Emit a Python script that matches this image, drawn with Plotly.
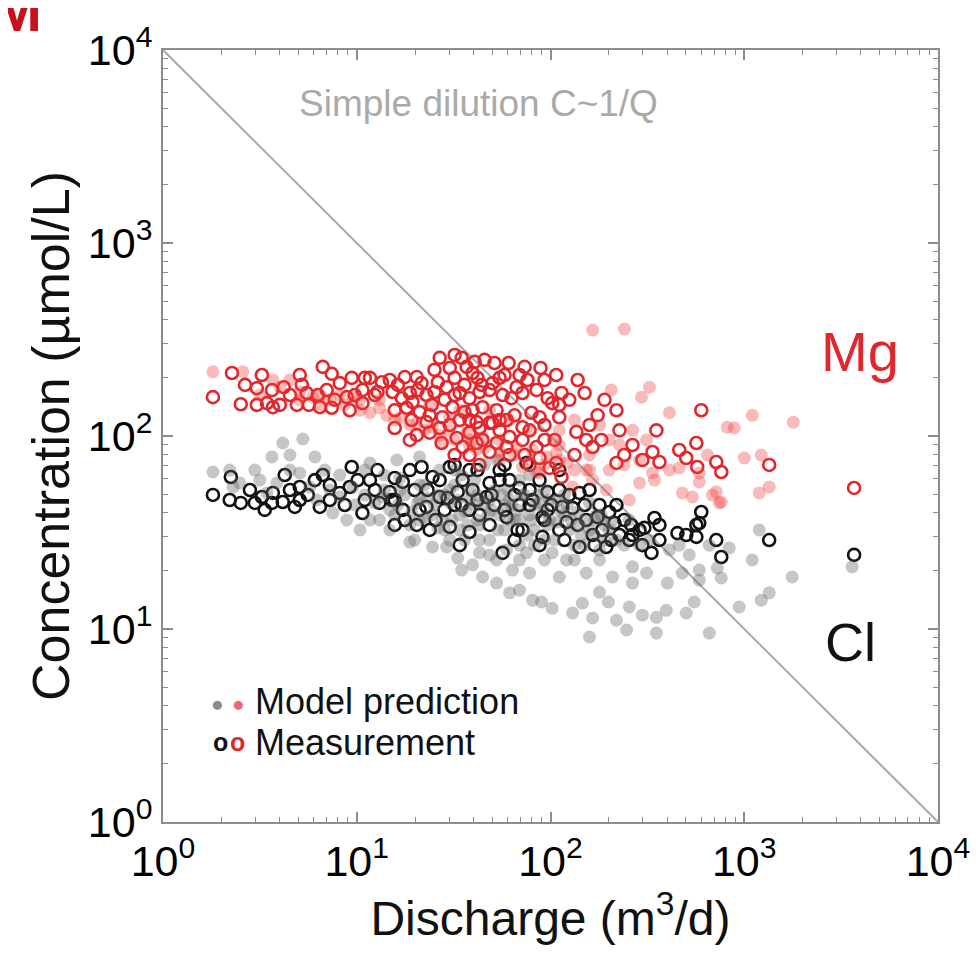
import plotly.graph_objects as go

# ---------------- data ----------------
# Mg measurements (red open circles)
mg_meas_Q = [1.81, 2.27, 2.52, 3.24, 3.05, 3.05, 3.44, 3.69, 3.65, 4.20, 4.91, 5.21, 5.52, 5.66, 6.68, 7.43,
             6.45, 7.43, 7.0, 8.17, 9.42, 9.20, 8.88, 26.8, 34.8, 45.7, 51.4, 60.8, 73.5, 88.8, 30.2, 36.9,
             39.6, 11.7, 13.5, 14.8, 17.7, 20.4, 21.6, 26.2, 29.1, 44.1, 48.5, 66.8, 71.7, 84.7, 10.7, 15.3,
             18.8, 22.9, 34.0, 38.2, 56.6, 10.7, 18.1, 19.4, 24.4, 31.2, 44.6, 52.7, 79.8, 19.2, 22.9, 27.7,
             34.0, 41.5, 48.5, 59.3, 71.7, 20.4, 23.8, 27.4, 32.8, 38.2, 44.6, 52.7, 61.5, 71.7, 84.7, 87.8,
             35.2, 107, 138, 150, 114, 102, 175, 219, 600, 352, 136, 183, 265, 336, 298, 365, 462, 566, 502,
             572, 717, 761, 219, 153, 114, 107, 78, 59.3, 41.5, 50.2, 39.6, 87.8, 111, 1345, 3690, 165, 43.0,
             50.2,
             9.77, 12.4, 16.3, 17.1, 20.6, 25.2, 28.4, 32.0, 36.0, 42.0, 54.6, 62.9, 76.1, 93.1, 96.6, 15.7,
             21.1, 26.8, 30.2, 36.0, 43.0, 54.6, 65.2, 78.0, 93.1, 105, 38.2, 48.5, 61.5, 73.5, 98.9, 133,
             159, 190, 227, 240, 125, 32.0, 25.2, 40.6, 57.9, 69.2, 5.08, 6.30, 7.70, 4.52, 4.01, 2.65,
             11.0, 12.8,
             32.0, 15.7, 18.8, 32.0, 43.0, 54.6, 111, 93.1, 38.2, 23.8]
mg_meas_C = [159, 212, 146, 207, 177, 145, 148, 141, 173, 179, 145, 184, 167, 145, 228, 210,
             141, 140, 173, 188, 200, 136, 159, 254, 254, 248, 239, 239, 228, 225, 225, 228,
             212, 200, 190, 195, 202, 202, 188, 190, 179, 184, 173, 179, 167, 173, 173, 169,
             167, 163, 167, 157, 163, 148, 140, 150, 145, 141, 141, 136, 132, 121, 118, 125,
             121, 118, 117, 121, 111, 101, 104, 92, 97.7, 104, 95.4, 92, 98.8, 95.4, 87.7, 76.9,
             87.7, 207, 195, 167, 167, 148, 128, 136, 136, 107, 105, 95.4, 89.8, 82.6, 75.1, 73.3, 84.6, 92, 76.9,
             69.1, 73.3, 65.1, 72.5, 95.4, 61.3, 72.5, 70.8, 87.7, 92, 117, 136, 125, 125, 70.8, 53.8, 87.7, 169,
             188,
             163, 163, 184, 157, 173, 169, 154, 200, 184, 200, 200, 157, 195, 195, 157, 136,
             133, 110, 114, 133, 110, 107, 128, 107, 114, 95.4, 79.7, 82.6, 79.7, 79.7, 68.3, 79.7,
             114, 154, 107, 79.7, 154, 163, 220, 242, 207, 207, 207, 163, 154, 163, 145, 184,
             200, 169,
             263, 110, 95.4, 79.7, 70.8, 121, 145, 95.4, 121, 128]

# Cl measurements (black open circles)
cl_meas_Q = [1.81, 2.24, 2.52, 2.98, 3.24, 3.65, 3.69, 4.15, 4.79, 5.08, 5.59, 6.45, 6.68, 9.42, 8.17, 7.26,
             11.7, 14.8, 17.3, 21.6, 24.6, 30.2, 35.2, 39.6, 48.5, 61.5, 69.2, 10.7, 13.1, 17.3, 20.4, 30.2,
             38.2, 46.8, 56.6, 75.2, 80.8, 90.9, 71.7, 26.8, 22.9, 59.3, 9.2, 101, 130, 141, 115, 153, 175,
             185, 214, 219, 265, 298, 332, 344, 365, 141, 194, 452, 502, 566, 566, 600, 717, 761, 121, 165,
             90.9, 288, 586, 1345, 3690, 15.7, 32.0, 43.0, 69.2, 93.1, 38.2, 54.6,
             10.1, 12.8, 15.7, 18.8, 19.9, 23.2, 26.8, 28.4, 33.2, 38.2, 42.0, 51.4, 54.6, 65.2, 78.0, 87.8,
             96.6, 111, 125, 150, 159, 179, 201, 240, 255, 305, 365, 227, 169, 111, 87.8, 65.2, 48.5, 34.0,
             23.8, 15.7, 12.4, 11.0, 8.67, 7.26, 5.08, 4.52, 4.25, 2.81, 2.21, 3.35, 6.08, 32.0, 57.9, 111,
             15.2, 17.7, 21.1, 25.5, 29.4, 34.8, 42.0, 49.6, 57.9, 67.6, 78.0, 96.6, 118, 138, 206, 261]
cl_meas_C = [49.5, 61.3, 45.0, 45.0, 48.3, 45.0, 50.7, 45.5, 42.9, 54.4, 49.5, 42.9, 62.8, 69.1, 50.7, 46.6,
             59.1, 51.3, 57.8, 69.1, 61.3, 69.1, 59.1, 52.5, 57.1, 59.1, 53.8, 39.9, 45.0, 41.4, 34.6, 33.8,
             31.8, 48.3, 24.8, 72.5, 46.6, 30.0, 32.6, 48.3, 42.9, 38.0, 54.4, 43.9, 42.4, 50.7, 42.9, 36.7, 38.0,
             32.6, 35.4, 43.9, 30.7, 27.2, 24.8, 37.6, 28.9, 26.6, 26.6, 31.4, 30.7, 30.0, 34.6, 40.4, 28.9, 23.6, 35.8, 30.7,
             38.0, 32.6, 35.4, 28.9, 24.2, 46.6, 43.9, 39.0, 43.9, 36.7, 66.6, 66.6,
             59.1, 66.6, 60.6, 66.6, 52.5, 52.5, 59.1, 41.4, 51.3, 41.4, 66.6, 43.9, 59.1, 49.5, 52.5, 59.1,
             51.3, 52.5, 49.5, 43.9, 52.5, 43.9, 40.4, 36.7, 28.9, 33.4, 34.6, 30.7, 27.2, 32.6, 27.2, 28.9, 34.6, 27.2,
             32.6, 34.6, 52.5, 46.6, 43.9, 55.7, 46.6, 52.5, 62.8, 52.5, 46.6, 41.4, 59.1, 70.8, 70.8, 66.6,
             46.6, 36.7, 41.4, 36.7, 47.7, 43.9, 46.6, 49.5, 41.4, 32.6, 43.9, 41.4, 28.9, 34.6, 28.9, 34.6]

# Mg model prediction (light red dots)
mg_model_Q = [1.81, 2.58, 3.69, 4.01, 5.08, 5.93, 7.26, 9.53, 8.17, 11.7, 14.3, 16.7, 20.4, 24.6, 30.2, 36.9,
              44.6, 54.6, 66.8, 80.8, 95.4, 48.5, 30.2, 27.7, 41.5, 54.6, 71.7, 84.7, 10.4, 6.45, 4.52, 3.16,
              165, 241, 1100, 817, 888, 1790, 1000, 1224, 1345, 1195, 717, 761, 586, 645, 206, 324, 295, 411,
              265, 313, 288, 336, 479, 540, 684, 743, 462, 586, 255, 194, 165, 130, 153, 121, 87.8, 107, 111,
              133, 179, 201, 227, 159, 105, 13.1, 23.8, 34.0, 61.5, 78, 38.2, 111,
              5.08, 6.45, 8.67, 10.4, 13.1, 15.7, 18.8, 22.4, 26.8, 32.0, 38.2, 45.7, 54.6, 65.2, 78.0, 93.1,
              111, 133, 159, 201, 240, 288, 344, 411]
mg_model_C = [215, 215, 195, 179, 169, 159, 154, 159, 163, 132, 128, 124, 117, 111, 107, 104,
              98.8, 95.4, 87.7, 84.6, 77.9, 136, 125, 92, 84.6, 75.1, 69.1, 65.1, 154, 163, 195, 163,
              354, 358, 128, 111, 110, 118, 76.9, 79.7, 54.4, 50.7, 51.3, 45.5, 57.8, 79.7, 173, 179, 159, 132,
              107, 95.4, 57.1, 64.3, 50.7, 48.3, 49.5, 45.0, 68.3, 64.3, 46.6, 52.5, 59.1, 54.4, 66.6, 72.5, 64.3, 81.6, 107,
              121, 114, 95.4, 89.8, 79.7, 95.4, 154, 145, 136, 121, 107, 95.4, 75.1,
              154, 145, 145, 136, 140, 121, 114, 107, 101, 95.4, 89.8, 86.7, 82.6, 79.7, 75.1, 70.8,
              89.8, 66.6, 66.6, 66.6, 70.8, 75.1, 59.1, 66.6]

# Cl model prediction (grey dots)
cl_model_Q = [1.81, 2.30, 4.15, 5.27, 3.65, 6.08, 5.08, 3.16, 3.87, 3.44, 5.72, 6.22, 7.26, 8.17, 8.88, 9.53,
              7.52, 2.49, 11.7, 21.1, 16.1, 52.7, 4.52, 11.0, 12.4, 13.9, 15.7, 17.7, 18.8, 20.6, 22.4, 24.4,
              26.2, 28.4, 30.2, 32.0, 34.0, 36.0, 38.2, 40.6, 43.0, 45.7, 48.5, 51.4, 54.6, 57.9, 61.5, 65.2,
              69.2, 73.5, 78.0, 82.7, 87.8, 98.9, 105, 111, 125, 133, 150, 169, 190, 219, 26.8, 16.7, 13.1, 10.4,
              69.2, 93.1, 118, 159, 18.8, 24.6, 29.1, 33.2, 34.8, 39.6, 44.6, 52.7, 61.5, 69.2, 80.8, 89.9, 102,
              130, 146, 159, 165, 179, 199, 219, 247, 255, 298, 352, 352, 396, 502, 552, 660, 401, 265, 209, 153,
              111, 78, 63.7, 52.7, 43, 121, 179, 265, 313, 479, 586, 102, 75.2, 59.3, 1195, 1100, 837, 726, 761,
              1767, 1345, 1224, 3605, 942, 288, 411, 520, 14.8, 19.9, 23.2, 27.7, 33.2, 37.3, 42.0, 47.4, 53.4,
              60.0, 67.6, 76.1, 85.7, 96.6, 109, 128, 144, 172, 201, 240, 32.0, 45.7, 78,
              11.0, 13.9, 16.7, 21.1, 25.2, 30.2, 34.8, 40.6, 48.5, 57.9, 69.2, 82.7, 98.9, 118, 141, 169,
              190, 93.1, 61.5, 43.0, 30.2, 21.1, 14.8, 11.7, 9.77, 8.17, 6.84, 4.52, 2.98, 2.21, 179, 133,
              93.1, 69.2, 48.5, 34.0, 255, 324, 462, 660, 586,
              13.6, 16.3, 19.2, 22.4, 26.2, 30.9, 36.5, 42.0, 49.6, 55.9, 62.9, 70.9, 79.8, 93.1, 109, 122,
              138, 159, 183, 206, 38.2, 28.4, 21.1, 82.7, 150]
cl_model_C = [65.1, 54.4, 92, 96.5, 77.9, 77.9, 64.3, 59.1, 57.1, 50.7, 54.4, 46.6, 52.5, 48.3, 36.7, 54.4,
              39.9, 57.1, 72.5, 77.9, 75.1, 75.1, 66.6, 49.5, 45.0, 52.5, 39.0, 49.5, 34.6, 45.0, 55.7, 39.0,
              49.5, 32.6, 45.0, 55.7, 39.0, 28.9, 46.6, 59.1, 34.6, 45.0, 28.9, 52.5, 39.0, 32.6, 46.6, 36.7,
              27.2, 49.5, 39.0, 32.6, 45.0, 36.7, 28.9, 41.4, 32.6, 27.2, 36.7, 30.7, 34.6, 28.9, 66.6, 60.6, 36.7, 32.6,
              59.1, 52.5, 49.5, 45.0, 28.2, 26.6, 26.6, 23.3, 20.2, 21.5, 18.6, 17.3, 15.4, 15.9, 14.1, 13.8, 12.8,
              12.1, 13.6, 9.09, 11.4, 15.5, 13.8, 11.1, 9.88, 13.0, 11.8, 11.5, 9.53, 12.5, 12.1, 13.8, 9.53, 17.3, 17.3, 18.6, 19.5,
              18.6, 19.5, 20.2, 22.8, 24.8, 22.8, 22.8, 21.0, 19.5, 19.5, 20.2, 24.8, 24.8, 25.7, 32.6, 22.8, 26.3, 20.7, 18.4,
              18.6, 15.4, 14.1, 21.0, 13.0, 27.2, 25.7, 24.2, 32.6, 28.9, 47.7, 36.7, 46.6, 34.6, 49.5, 39.0, 32.6,
              52.5, 41.4, 30.7, 49.5, 34.6, 46.6, 36.7, 30.7, 39.0, 32.6, 27.2, 66.6, 70.8, 62.8,
              66.6, 62.8, 52.5, 46.6, 43.9, 52.5, 62.8, 43.9, 46.6, 43.9, 36.7, 43.9, 46.6, 39.0, 34.6, 36.7,
              28.9, 28.9, 36.7, 28.9, 28.9, 36.7, 41.4, 36.7, 43.9, 62.8, 66.6, 79.7, 66.6, 66.6, 25.7, 22.8,
              22.8, 22.8, 24.2, 32.6, 36.7, 28.9, 27.2, 27.2, 17.9,
              48.3, 43.9, 40.4, 37.6, 33.4, 36.7, 40.4, 36.7, 41.4, 49.5, 43.9, 49.5, 36.7, 40.4, 35.8, 43.9,
              40.4, 32.6, 39.0, 35.8, 52.5, 49.5, 55.7, 27.2, 27.2]

# simple dilution line C ~ 1/Q
dilution_Q = [1, 10000]
dilution_C = [10000, 1]

tick_vals = [1, 10, 100, 1000, 10000]
tick_text = ["10<sup>0</sup>", "10<sup>1</sup>", "10<sup>2</sup>", "10<sup>3</sup>", "10<sup>4</sup>"]
minor_vals = [m * 10 ** k for k in range(4) for m in range(2, 10)]

# ---------------- figure ----------------
FONT = "Liberation Sans, Arial, Helvetica, sans-serif"
RED = "#e3262b"
AXC = "#8c8c8c"

fig = go.Figure()
fig.add_trace(go.Scatter(x=dilution_Q, y=dilution_C, mode="lines",
                         line=dict(color="#a8a8a8", width=2), hoverinfo="skip"))
fig.add_trace(go.Scatter(x=cl_meas_Q, y=cl_meas_C, mode="markers",
                         marker=dict(symbol="circle-open", size=12, color="#111111", line=dict(width=2.6))))
fig.add_trace(go.Scatter(x=mg_meas_Q, y=mg_meas_C, mode="markers",
                         marker=dict(symbol="circle-open", size=12, color=RED, line=dict(width=2.6))))
fig.add_trace(go.Scatter(x=cl_model_Q, y=cl_model_C, mode="markers",
                         marker=dict(symbol="circle", size=13, color="rgba(100,100,100,0.37)", line=dict(width=0))))
fig.add_trace(go.Scatter(x=mg_model_Q, y=mg_model_C, mode="markers",
                         marker=dict(symbol="circle", size=13, color="rgba(238,60,55,0.35)", line=dict(width=0))))

axis_common = dict(
    type="log", range=[0, 4], tickmode="array", tickvals=tick_vals, ticktext=tick_text,
    ticks="inside", ticklen=10, tickwidth=1.5, tickcolor=AXC,
    showline=True, linecolor=AXC, linewidth=2, mirror="ticks",
    showgrid=False, zeroline=False,
    minor=dict(ticks="inside", ticklen=5, tickwidth=1, tickcolor=AXC, tickvals=minor_vals, showgrid=False),
)

# the page body adds an 8 px offset, so margins are set to land the plot box at (163..938, 50..822)
fig.update_layout(
    width=979, height=964,
    margin=dict(l=155, r=49, t=42, b=150),
    paper_bgcolor="white", plot_bgcolor="white",
    showlegend=False,
    font=dict(family=FONT, color="black"),
    xaxis=dict(**axis_common, automargin=True, tickfont=dict(size=43, color="black"),
               title=dict(text="Discharge (m<sup>3</sup>/d)", font=dict(size=48, color="#111"), standoff=14)),
    yaxis=dict(**axis_common, automargin=False, tickfont=dict(size=43, color="black"),
               title=dict(text="Concentration (µmol/L)", font=dict(size=52, color="#111"), standoff=2)),
)

def px2paper(px, py):
    return (px - 163) / 775.0, (822 - py) / 772.0

annotations = []
def add_text(text, px, py, size, color, xanchor="center", yanchor="middle", bold=False):
    x, y = px2paper(px, py)
    annotations.append(dict(text=f"<b>{text}</b>" if bold else text, x=x, y=y, xref="paper", yref="paper",
                            xanchor=xanchor, yanchor=yanchor, showarrow=False,
                            font=dict(family=FONT, size=size, color=color)))

add_text("Simple dilution C~1/Q", 478, 103, 37, "#aaaaaa")
add_text("Mg", 860, 352, 56, RED)
add_text("Cl", 850, 642, 54, "#111111")
# legend glyphs and labels
add_text("●", 217, 703, 21, "#8a8a8a")
add_text("●", 238, 703, 21, "#f06a6a")
add_text("o", 220, 742, 25, "#111111", bold=True)
add_text("o", 237, 742, 25, RED, bold=True)
add_text("Model prediction", 253, 701, 36, "#111111", xanchor="left")
add_text("Measurement", 253, 742, 36, "#111111", xanchor="left")
# panel letter, partly cut off at the page edge (as in the source figure)
add_text("M", 44, 10, 60, "#c8101e", xanchor="right", bold=True)

fig.update_layout(annotations=annotations)
fig.write_html("out.html")
